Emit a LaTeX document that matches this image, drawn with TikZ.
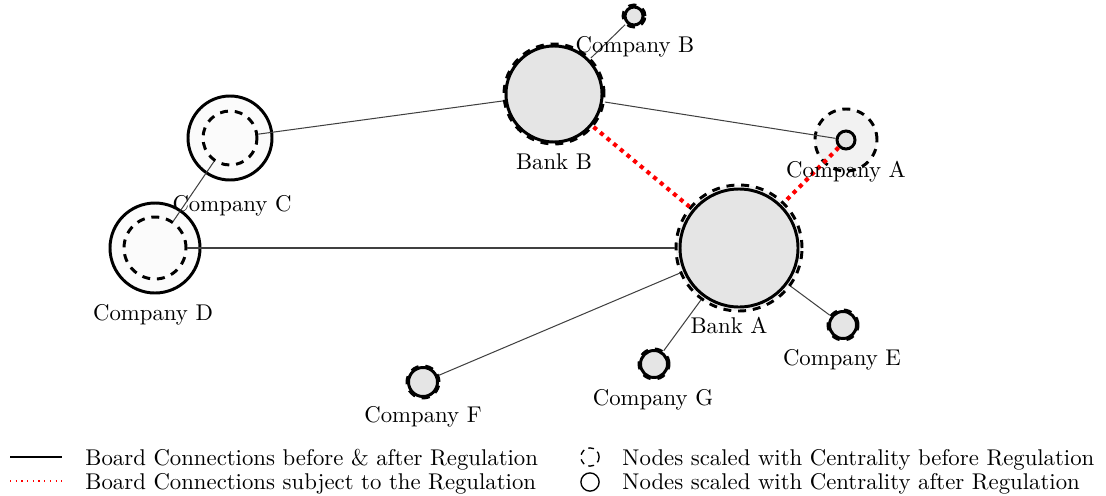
\documentclass[tikz,border=0pt]{standalone}
\begin{document}
\begin{tikzpicture}[x=0.4392pt,y=-0.4392pt,
  rad/.style={circle,inner sep=0pt,minimum size=#1*0.8784pt},
  post/.style={draw=black,line width=1.3pt,fill=gray!20},
  pre/.style={draw=black,line width=1.3pt,dash pattern=on 3.5pt off 3pt,fill=gray!20},
  edge/.style={draw=black!75,line width=0.45pt},
  regedge/.style={draw=red,dotted,line width=1.8pt},
  lbl/.style={anchor=base,font=\normalsize}]
\useasboundingbox (0,0) rectangle (1106,495);

% Bank B
\node[pre,rad=50] (bBpre) at (554,94) {};
\node[post,rad=48] (bB) at (554,94) {};
% Company B
\node[pre,rad=11] (cBpre) at (634,16) {};
\node[post,rad=9] (cB) at (634,16) {};
% Bank A
\node[pre,rad=63,fill=gray!10] (bApre) at (739,248) {};
\node[post,rad=59] (bA) at (739,248) {};
% Company A
\node[pre,rad=31,fill=gray!10] (cApre) at (846,140) {};
\node[post,rad=9] (cA) at (846,140) {};
% Company C
\node[post,rad=42,fill=gray!3] (cC) at (230,138) {};
\node[pre,rad=27,fill=gray!3] (cCpre) at (230,138) {};
% Company D
\node[post,rad=45,fill=gray!3] (cD) at (155,248) {};
\node[pre,rad=31,fill=gray!3] (cDpre) at (155,248) {};
% Company E
\node[pre,rad=15] (cEpre) at (843,325) {};
\node[post,rad=13.5] (cE) at (843,325) {};
% Company F
\node[pre,rad=16] (cFpre) at (423,382) {};
\node[post,rad=14.5] (cF) at (423,382) {};
% Company G
\node[pre,rad=15] (cGpre) at (654,364) {};
\node[post,rad=13.5] (cG) at (654,364) {};

% edges
\draw[edge] (bBpre) -- (cBpre);
\draw[edge] (bBpre) -- (cCpre);
\draw[edge] (bBpre) -- (cA);
\draw[edge] (cCpre) -- (cDpre);
\draw[edge] (cDpre) -- (bApre);
\draw[edge] (bApre) -- (cFpre);
\draw[edge] (bApre) -- (cGpre);
\draw[edge] (bApre) -- (cEpre);
\draw[regedge] (bBpre) -- (bApre);
\draw[regedge] (cA) -- (bApre);

% labels
\node[lbl] (lcB) at (635,52) {Company B};
\node[lbl] (lbB) at (554,169) {Bank B};
\node[lbl] (lcA) at (846,177) {Company A};
\node[lbl] (lcC) at (232,211) {Company C};
\node[lbl] (lcD) at (153,320) {Company D};
\node[lbl] (lbA) at (729,333) {Bank A};
\node[lbl] (lcE) at (842,365) {Company E};
\node[lbl] (lcF) at (423,422) {Company F};
\node[lbl] (lcG) at (653,405) {Company G};

% legend
\coordinate (l1a) at (10,457); \coordinate (l1b) at (62,457);
\coordinate (l2a) at (10,481); \coordinate (l2b) at (62,481);
\draw[black,line width=0.8pt] (l1a) -- (l1b);
\draw[red,dotted,line width=0.5pt] (l2a) -- (l2b);
\node[anchor=base west,inner sep=0pt] (t1) at (85,465) {Board Connections before \& after Regulation};
\node[anchor=base west,inner sep=0pt] (t2) at (85,489) {Board Connections subject to the Regulation};
\node[circle,draw,dash pattern=on 2.5pt off 2pt,line width=0.6pt,inner sep=0pt,minimum size=8pt] (i1) at (590,457) {};
\node[circle,draw,line width=0.6pt,inner sep=0pt,minimum size=8pt] (i2) at (590,482) {};
\node[anchor=base west,inner sep=0pt] (t3) at (622,465) {Nodes scaled with Centrality before Regulation};
\node[anchor=base west,inner sep=0pt] (t4) at (622,489) {Nodes scaled with Centrality after Regulation};
\end{tikzpicture}
\end{document}
